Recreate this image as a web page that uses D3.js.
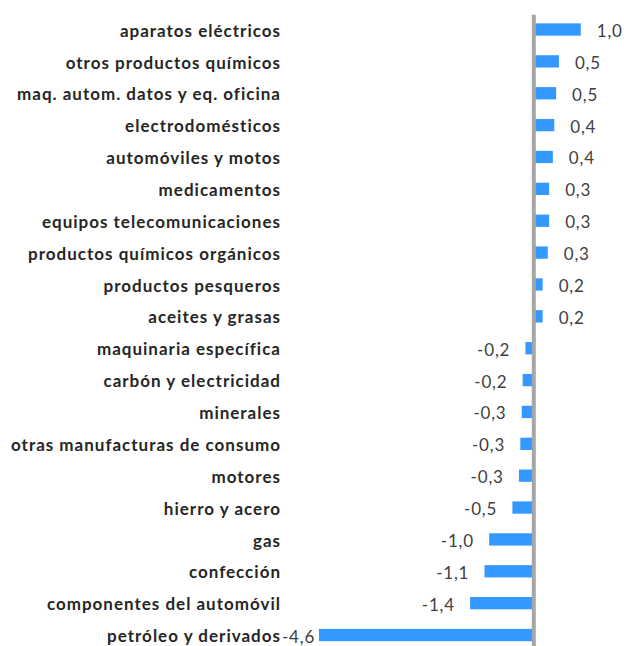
<!DOCTYPE html>
<html>
<head>
<meta charset="utf-8">
<script src="https://cdn.jsdelivr.net/npm/d3@7"></script>
<style>
  html, body { margin: 0; padding: 0; background: #fff; }
  svg { display: block; }
</style>
</head>
<body>
<svg id="chart" width="624" height="646"></svg>
<script>
const categories = [
  "aparatos eléctricos",
  "otros productos químicos",
  "maq. autom. datos y eq. oficina",
  "electrodomésticos",
  "automóviles y motos",
  "medicamentos",
  "equipos telecomunicaciones",
  "productos químicos orgánicos",
  "productos pesqueros",
  "aceites y grasas",
  "maquinaria específica",
  "carbón y electricidad",
  "minerales",
  "otras manufacturas de consumo",
  "motores",
  "hierro y acero",
  "gas",
  "confección",
  "componentes del automóvil",
  "petróleo y derivados"
];
const values = [
  1.01, 0.54, 0.48, 0.44, 0.41, 0.33, 0.33, 0.30, 0.19, 0.19,
  -0.18, -0.24, -0.26, -0.29, -0.32, -0.46, -0.96, -1.06, -1.37, -4.62
];
const xDomain = [-5, 1.2];

const data = categories.map((c, i) => ({ cat: c, v: values[i] }));
const svg = d3.select("#chart");

const x = d3.scaleLinear().domain(xDomain).range([301.3, 589.6]);
const y = d3.scaleBand().domain(categories).range([13.57, 650.97])
  .paddingInner(0.614).paddingOuter(0.307);

const barColor = "#3399FF";
const fmt = v => d3.format(".1f")(v).replace(".", ",").replace("−", "-");

// bars
svg.append("g").selectAll("rect").data(data).join("rect")
  .attr("x", d => Math.min(x(0), x(d.v)))
  .attr("width", d => Math.abs(x(d.v) - x(0)))
  .attr("y", d => y(d.cat))
  .attr("height", y.bandwidth())
  .attr("fill", barColor);

// zero axis line
svg.append("line")
  .attr("x1", x(0)).attr("x2", x(0))
  .attr("y1", 14.7).attr("y2", 646)
  .attr("stroke", "#A6A6A6").attr("stroke-width", 4);

// category axis
const yAxis = svg.append("g")
  .attr("transform", "translate(283,0)")
  .call(d3.axisLeft(y).tickSize(0).tickPadding(2));
yAxis.select(".domain").remove();
yAxis.selectAll("text")
  .attr("font-family", "Lato, 'Open Sans', sans-serif")
  .attr("font-weight", "bold")
  .attr("font-size", "17px")
  .attr("letter-spacing", "1px")
  .attr("fill", "#262626")
  .attr("dy", "0.42em");

// value labels
const plotLeft = 282;
const labels = svg.append("g").selectAll("text").data(data).join("text")
  .attr("font-family", "Lato, 'Open Sans', sans-serif")
  .attr("font-size", "17px")
  .attr("letter-spacing", "0.8px")
  .attr("fill", "#404040")
  .attr("y", d => y(d.cat) + y.bandwidth() / 2)
  .attr("dy", "0.44em")
  .text(d => fmt(d.v));
labels.each(function(d) {
  const t = d3.select(this);
  const w = this.getComputedTextLength();
  let left;
  if (d.v >= 0) left = x(d.v) + 16;
  else {
    left = x(d.v) - 16 - w + 0.8;
    if (left < plotLeft) left = plotLeft;
  }
  t.attr("x", left);
});
</script>
</body>
</html>
